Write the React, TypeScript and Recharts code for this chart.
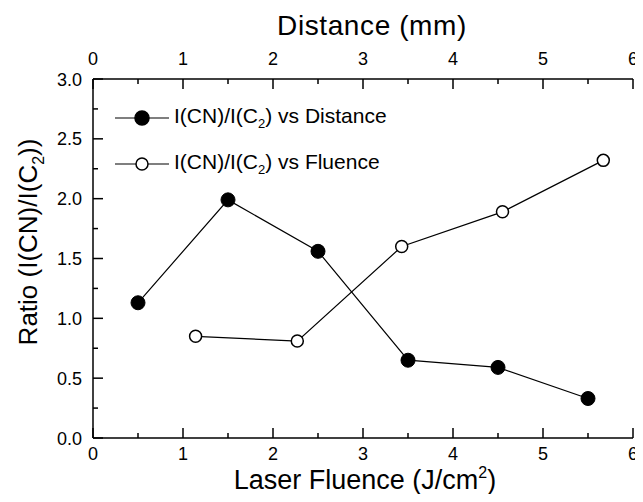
import React from 'react';
import { LineChart, Line, XAxis, YAxis } from 'recharts';

// I(CN)/I(C2) against distance (top axis, mm)
const distanceX = [0.5, 1.5, 2.5, 3.5, 4.5, 5.5];
const distanceRatio = [1.13, 1.99, 1.56, 0.65, 0.59, 0.33];

// I(CN)/I(C2) against laser fluence (bottom axis, J/cm2)
const fluenceX = [1.14, 2.27, 3.43, 4.55, 5.67];
const fluenceRatio = [0.85, 0.81, 1.6, 1.89, 2.32];

const xTicks = [0, 0.5, 1, 1.5, 2, 2.5, 3, 3.5, 4, 4.5, 5, 5.5, 6];
const yTicks = [0, 0.25, 0.5, 0.75, 1, 1.25, 1.5, 1.75, 2, 2.25, 2.5, 2.75, 3];

const distanceData = distanceX.map((x, i) => ({ x, y: distanceRatio[i] }));
const fluenceData = fluenceX.map((x, i) => ({ x, y: fluenceRatio[i] }));

const FONT = '"Liberation Sans", Arial, Helvetica, sans-serif';
const isMajorX = (v: number) => Number.isInteger(v);
const isMajorY = (v: number) => Math.abs(v * 2 - Math.round(v * 2)) < 1e-9;

const BottomTick = ({ x, y, payload }: any) => {
  const major = isMajorX(payload.value);
  return (
    <g>
      <line x1={x} x2={x} y1={y} y2={y - (major ? 10 : 5)} stroke="#000" strokeWidth={1.5} />
      {major && (
        <text x={x} y={y + 22} textAnchor="middle" fontSize={18} fontFamily={FONT} fill="#000">
          {payload.value}
        </text>
      )}
    </g>
  );
};

const TopTick = ({ x, y, payload }: any) => {
  const major = isMajorX(payload.value);
  return (
    <g>
      <line x1={x} x2={x} y1={y} y2={y + (major ? 10 : 5)} stroke="#000" strokeWidth={1.5} />
      {major && (
        <text x={x} y={y - 14} textAnchor="middle" fontSize={18} fontFamily={FONT} fill="#000">
          {payload.value}
        </text>
      )}
    </g>
  );
};

const LeftTick = ({ x, y, payload }: any) => {
  const major = isMajorY(payload.value);
  return (
    <g>
      <line x1={x} x2={x + (major ? 10 : 5)} y1={y} y2={y} stroke="#000" strokeWidth={1.5} />
      {major && (
        <text x={x - 11} y={y + 6.5} textAnchor="end" fontSize={18} fontFamily={FONT} fill="#000">
          {payload.value.toFixed(1)}
        </text>
      )}
    </g>
  );
};

const RightTick = ({ x, y, payload }: any) => {
  const major = isMajorY(payload.value);
  return <line x1={x} x2={x - (major ? 10 : 5)} y1={y} y2={y} stroke="#000" strokeWidth={1.5} />;
};

const topTitle = ({ viewBox }: any) => (
  <text x={viewBox.x + viewBox.width / 2 + 9} y={viewBox.y + 35} textAnchor="middle" fontSize={28} letterSpacing={0.6} fontFamily={FONT} fill="#000">
    Distance (mm)
  </text>
);

const bottomTitle = ({ viewBox }: any) => (
  <text x={viewBox.x + viewBox.width / 2 + 2} y={viewBox.y + 51} textAnchor="middle" fontSize={27} fontFamily={FONT} fill="#000">
    Laser Fluence (J/cm<tspan dy={-11} fontSize={16}>2</tspan><tspan dy={11}>)</tspan>
  </text>
);

const leftTitle = ({ viewBox }: any) => {
  const cx = viewBox.x + 37;
  const cy = 242;
  return (
    <text x={cx} y={cy} transform={`rotate(-90 ${cx} ${cy})`} textAnchor="middle" fontSize={26} fontFamily={FONT} fill="#000">
      Ratio (I(CN)/I(C<tspan dy={7} fontSize={16}>2</tspan><tspan dy={-7}>))</tspan>
    </text>
  );
};

const Marker = ({ filled }: { filled: boolean }) => (
  <svg width={56} height={20} style={{ display: 'block' }}>
    <line x1={0} x2={54} y1={10} y2={10} stroke="#000" strokeWidth={1.2} />
    <circle cx={27} cy={10} r={filled ? 7 : 6} fill={filled ? '#000' : '#fff'} stroke="#000" strokeWidth={1.5} />
  </svg>
);

const legendItems = [
  { filled: true, label: 'vs Distance' },
  { filled: false, label: 'vs Fluence' },
];

export default function App() {
  return (
    <div style={{ position: 'relative', width: 643, height: 502, margin: -8 }}>
      <LineChart width={643} height={502} data={distanceData} margin={{ top: 0, right: 10, bottom: 0, left: 0 }}>
        <XAxis
          xAxisId="bottom"
          dataKey="x"
          type="number"
          domain={[0, 6]}
          ticks={xTicks}
          interval={0}
          allowDataOverflow
          height={64}
          tickSize={0}
          tickMargin={0}
          tickLine={false}
          tick={BottomTick}
          axisLine={{ stroke: '#000', strokeWidth: 1.5 }}
          label={bottomTitle}
        />
        <XAxis
          xAxisId="top"
          orientation="top"
          dataKey="x"
          type="number"
          domain={[0, 6]}
          ticks={xTicks}
          interval={0}
          allowDataOverflow
          height={79}
          tickSize={0}
          tickMargin={0}
          tickLine={false}
          tick={TopTick}
          axisLine={{ stroke: '#000', strokeWidth: 1.5 }}
          label={topTitle}
        />
        <YAxis
          yAxisId="left"
          type="number"
          domain={[0, 3]}
          ticks={yTicks}
          interval={0}
          allowDataOverflow
          width={93}
          tickSize={0}
          tickMargin={0}
          tickLine={false}
          tick={LeftTick}
          axisLine={{ stroke: '#000', strokeWidth: 1.5 }}
          label={leftTitle}
        />
        <YAxis
          yAxisId="right"
          orientation="right"
          type="number"
          domain={[0, 3]}
          ticks={yTicks}
          interval={0}
          allowDataOverflow
          width={0}
          tickSize={0}
          tickMargin={0}
          tickLine={false}
          tick={RightTick}
          axisLine={{ stroke: '#000', strokeWidth: 1.5 }}
        />
        <Line
          data={distanceData}
          xAxisId="top"
          yAxisId="left"
          dataKey="y"
          stroke="#000"
          strokeWidth={1.2}
          dot={{ r: 7, fill: '#000', stroke: '#000', strokeWidth: 1 }}
          isAnimationActive={false}
        />
        <Line
          data={fluenceData}
          xAxisId="bottom"
          yAxisId="left"
          dataKey="y"
          stroke="#000"
          strokeWidth={1.2}
          dot={{ r: 6, fill: '#fff', stroke: '#000', strokeWidth: 1.5 }}
          isAnimationActive={false}
        />
      </LineChart>
      <div style={{ position: 'absolute', left: 115, top: 108, fontFamily: FONT, fontSize: 21, color: '#000' }}>
        {legendItems.map((it, i) => (
          <div key={i} style={{ display: 'flex', alignItems: 'center', height: 20, marginBottom: i === 0 ? 26 : 0 }}>
            <Marker filled={it.filled} />
            <span style={{ marginLeft: 3, whiteSpace: 'nowrap' }}>
              I(CN)/I(C<sub style={{ fontSize: 13 }}>2</sub>) {it.label}
            </span>
          </div>
        ))}
      </div>
    </div>
  );
}
